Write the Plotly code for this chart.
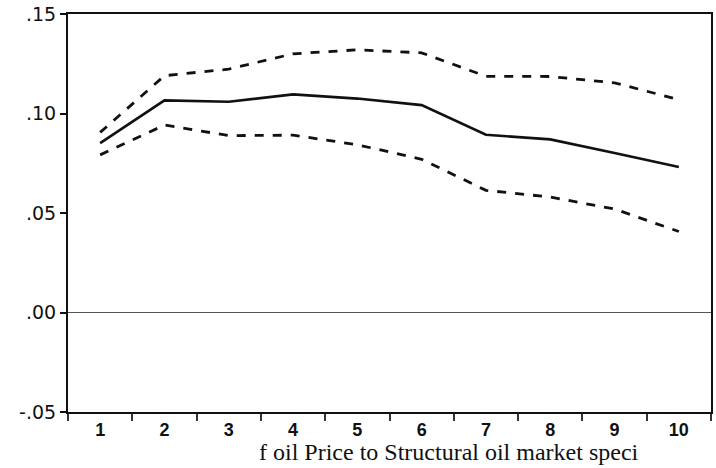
import plotly.graph_objects as go

periods = ["1", "2", "3", "4", "5", "6", "7", "8", "9", "10"]
response = [0.0851, 0.1066, 0.1059, 0.1096, 0.1075, 0.1042, 0.0893, 0.0870, 0.0801, 0.0731]
upper_band = [0.0905, 0.1190, 0.1223, 0.1300, 0.1320, 0.1305, 0.1187, 0.1186, 0.1154, 0.1070]
lower_band = [0.0792, 0.0942, 0.0889, 0.0891, 0.0843, 0.0770, 0.0614, 0.0580, 0.0520, 0.0407]
ytick_vals = [-0.05, 0.0, 0.05, 0.10, 0.15]
ytick_text = ["-.05", ".00", ".05", ".10", ".15"]
caption = "f oil Price to Structural oil market speci"

fig = go.Figure()
fig.add_trace(go.Scatter(x=periods, y=upper_band, mode="lines",
                         line=dict(color="#111111", width=2.8, dash="dash")))
fig.add_trace(go.Scatter(x=periods, y=response, mode="lines",
                         line=dict(color="#111111", width=2.6)))
fig.add_trace(go.Scatter(x=periods, y=lower_band, mode="lines",
                         line=dict(color="#111111", width=2.8, dash="dash")))

fig.update_layout(
    width=716, height=468,
    margin=dict(l=68, r=3, t=13, b=56),
    paper_bgcolor="white", plot_bgcolor="white",
    showlegend=False,
    font=dict(family="Liberation Sans, Arial, sans-serif", color="#111111"),
)
fig.update_xaxes(
    type="category", range=[-0.5, 9.5],
    showgrid=False, zeroline=False,
    showline=True, linecolor="#111111", linewidth=2, mirror=True,
    ticks="outside", tickson="boundaries", ticklen=7, tickwidth=1.5, tickcolor="#333333",
    ticklabelstandoff=0,
    tickfont=dict(size=18, color="#111111", weight="bold"),
)
fig.update_yaxes(
    range=[-0.05, 0.15],
    tickvals=ytick_vals, ticktext=ytick_text,
    showgrid=False,
    zeroline=True, zerolinecolor="#555555", zerolinewidth=1,
    showline=True, linecolor="#111111", linewidth=2, mirror=True,
    ticks="outside", ticklen=6, tickwidth=1.5, tickcolor="#111111",
    tickfont=dict(size=19, color="#111111", family="DejaVu Sans, Arial, sans-serif"),
)
fig.add_annotation(
    text=caption, xref="paper", yref="paper", x=0.2946, y=-0.137,
    xanchor="left", yanchor="bottom", showarrow=False,
    font=dict(family="Liberation Serif, Times New Roman, serif", size=24, color="#111111"),
)

fig.write_html("out.html")
